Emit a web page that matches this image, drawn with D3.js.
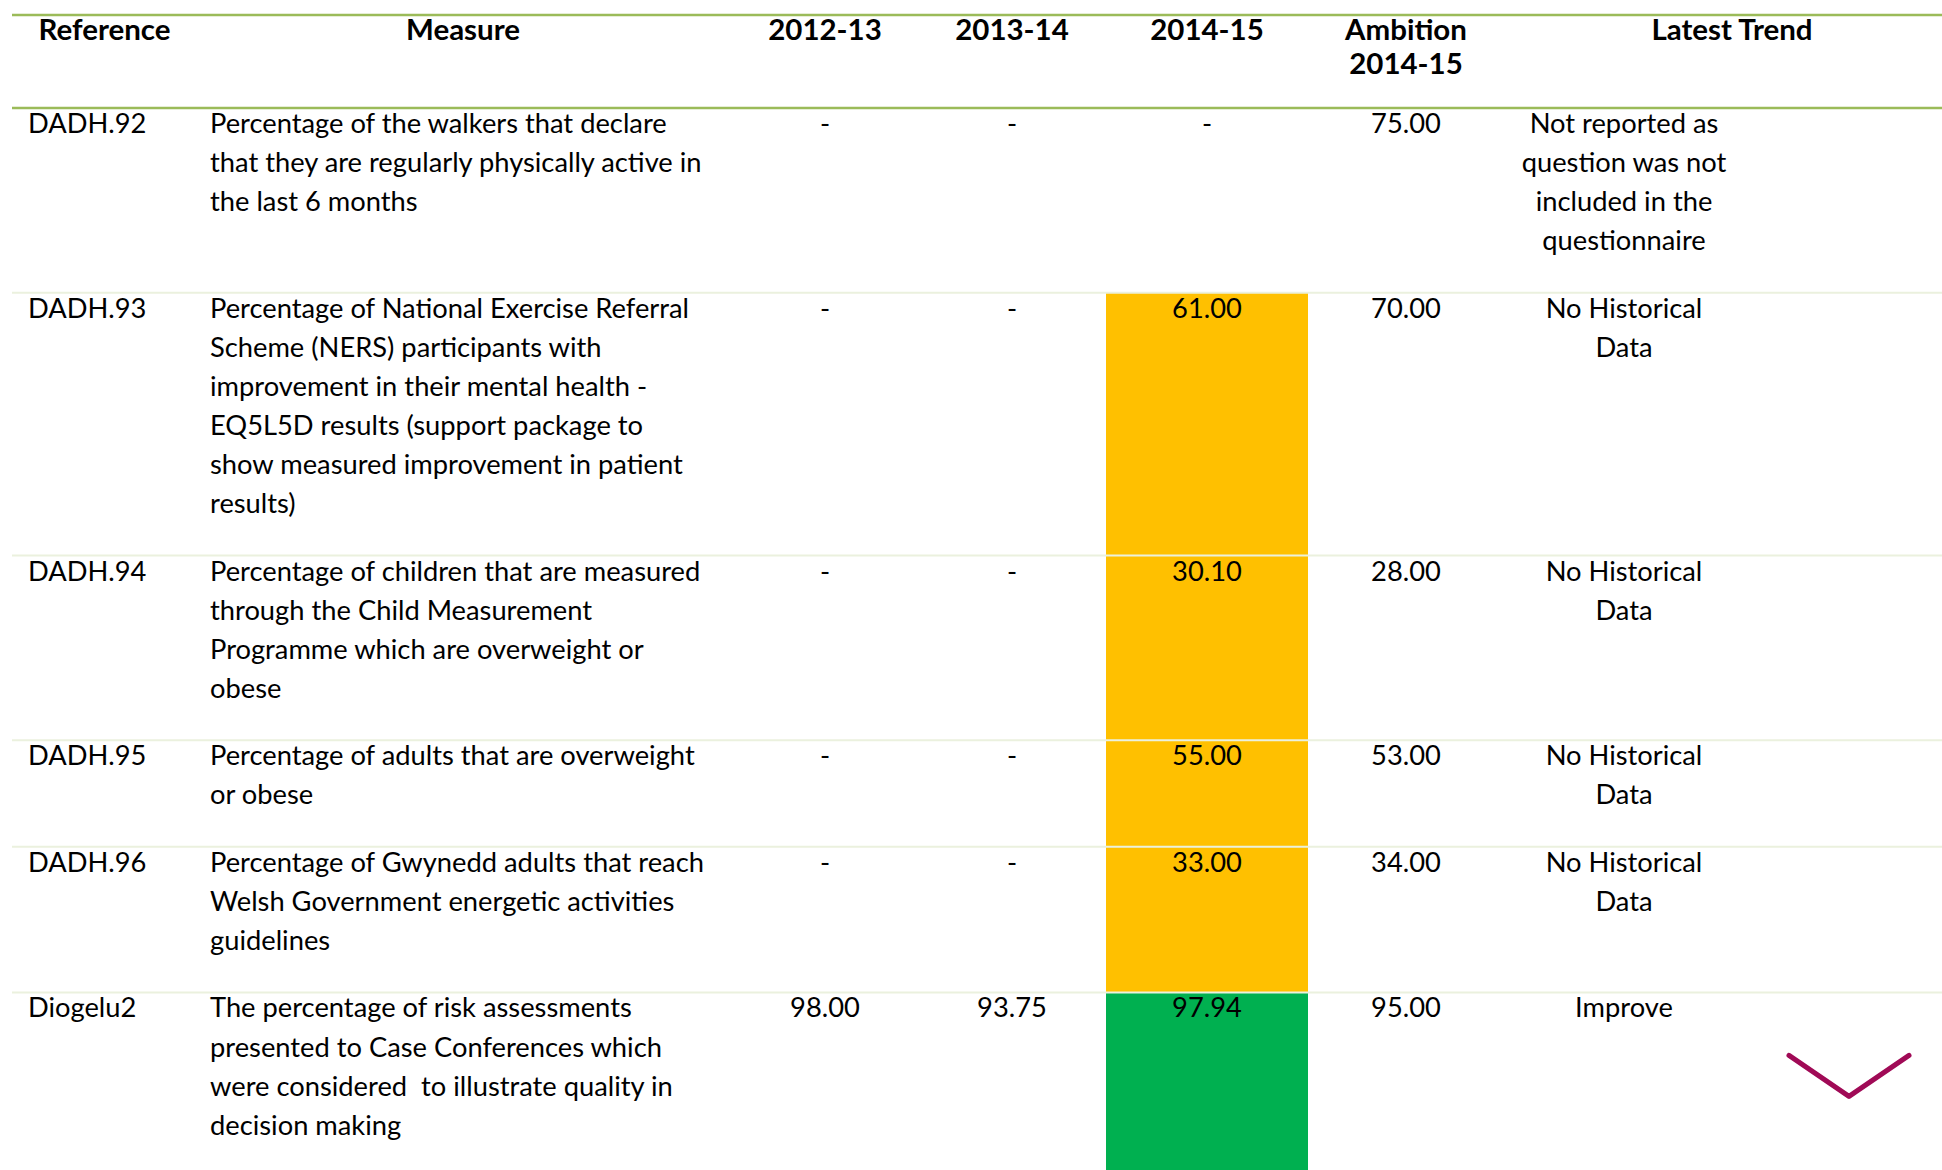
<!DOCTYPE html>
<html>
<head>
<meta charset="utf-8">
<script src="https://cdn.jsdelivr.net/npm/d3@7"></script>
<style>
  html, body { margin: 0; padding: 0; background: #ffffff; }
  svg { display: block; }
  text { font-family: Lato, "Open Sans", sans-serif; fill: #000; }
</style>
</head>
<body>
<svg id="chart" width="1942" height="1170"></svg>
<script>
// ---------------- DATA ----------------
const headers = ["Reference", "Measure", "2012-13", "2013-14", "2014-15", ["Ambition", "2014-15"], "Latest Trend"];
const references = ["DADH.92", "DADH.93", "DADH.94", "DADH.95", "DADH.96", "Diogelu2"];
const measures = [
  ["Percentage of the walkers that declare", "that they are regularly physically active in", "the last 6 months"],
  ["Percentage of National Exercise Referral", "Scheme (NERS) participants with", "improvement in their mental health -", "EQ5L5D results (support package to", "show measured improvement in patient", "results)"],
  ["Percentage of children that are measured", "through the Child Measurement", "Programme which are overweight or", "obese"],
  ["Percentage of adults that are overweight", "or obese"],
  ["Percentage of Gwynedd adults that reach", "Welsh Government energetic activities", "guidelines"],
  ["The percentage of risk assessments", "presented to Case Conferences which", "were considered  to illustrate quality in", "decision making"]
];
const values2012 = ["-", "-", "-", "-", "-", "98.00"];
const values2013 = ["-", "-", "-", "-", "-", "93.75"];
const values2014 = ["-", "61.00", "30.10", "55.00", "33.00", "97.94"];
const ambition2014 = ["75.00", "70.00", "28.00", "53.00", "34.00", "95.00"];
const status2014 = ["none", "amber", "amber", "amber", "amber", "green"];
const trends = [
  ["Not reported as", "question was not", "included in the", "questionnaire"],
  ["No Historical", "Data"],
  ["No Historical", "Data"],
  ["No Historical", "Data"],
  ["No Historical", "Data"],
  ["Improve"]
];
const trendIcons = ["", "", "", "", "", "down"];

// ---------------- LAYOUT ----------------
const W = 1942, H = 1170;
const svg = d3.select("#chart");
svg.append("rect").attr("width", W).attr("height", H).attr("fill", "#fff");

const lineLeft = 12;
const topLineY = 15, headerBottomY = 108;
const lineH = 39.1, rowPad = 28.3, headLineH = 33.5;
const baseOff = 25;

const statusColor = d3.scaleOrdinal()
  .domain(["none", "amber", "green"])
  .range(["none", "#FFC000", "#00B050"]);

// column anchors
const colX = d3.scaleOrdinal()
  .domain(["ref", "measure", "y2012", "y2013", "y2014", "amb", "trend", "trendHead", "refHead", "measureHead"])
  .range([28, 210, 825, 1012, 1207, 1406, 1624, 1732, 104.5, 463]);
const cell2014 = { x0: 1106, x1: 1308 };

// font fitting
function measureText(str, size, weight) {
  const t = svg.append("text").attr("font-size", size).attr("font-weight", weight).text(str);
  const w = t.node().getComputedTextLength();
  t.remove();
  return w;
}
const bodySize = 25 * 457 / measureText("Percentage of the walkers that declare", 25, 400);
const headSize = 27 * 132 / measureText("Reference", 27, 700);

// row geometry
const rowLines = references.map((_, i) => Math.max(measures[i].length, trends[i].length));
const rowTops = [];
let acc = headerBottomY;
rowLines.forEach(n => { rowTops.push(acc); acc += n * lineH + rowPad; });
const rowBottoms = rowTops.map((t, i) => t + rowLines[i] * lineH + rowPad);

const rows = references.map((r, i) => ({
  i, ref: r, measure: measures[i], v12: values2012[i], v13: values2013[i], v14: values2014[i],
  amb: ambition2014[i], status: status2014[i], trend: trends[i], icon: trendIcons[i],
  top: rowTops[i], bottom: Math.min(rowBottoms[i], H)
}));

// status fills
svg.append("g").selectAll("rect")
  .data(rows.filter(d => d.status !== "none"))
  .join("rect")
  .attr("x", cell2014.x0)
  .attr("y", d => d.top)
  .attr("width", cell2014.x1 - cell2014.x0)
  .attr("height", d => d.bottom - d.top)
  .attr("fill", d => statusColor(d.status));

// row separators
svg.append("g").selectAll("line")
  .data(rows.slice(1))
  .join("line")
  .attr("x1", lineLeft).attr("x2", W)
  .attr("y1", d => d.top).attr("y2", d => d.top)
  .attr("stroke", "#EBF1DE").attr("stroke-width", 2);

// header lines
[topLineY, headerBottomY].forEach(y => {
  svg.append("line").attr("x1", lineLeft).attr("x2", W).attr("y1", y).attr("y2", y)
    .attr("stroke", "#9BBB59").attr("stroke-width", 2.5);
});

// header text
const headAnchors = ["refHead", "measureHead", "y2012", "y2013", "y2014", "amb", "trendHead"];
const hg = svg.append("g");
headers.forEach((h, k) => {
  const lines = Array.isArray(h) ? h : [h];
  const t = hg.append("text")
    .attr("x", colX(headAnchors[k]))
    .attr("y", topLineY + 25)
    .attr("text-anchor", "middle")
    .attr("font-weight", 700)
    .attr("font-size", headSize);
  lines.forEach((ln, j) => {
    t.append("tspan").attr("x", colX(headAnchors[k])).attr("dy", j === 0 ? 0 : headLineH).text(ln);
  });
});

// body text
function multiline(g, x, y, lines, anchor) {
  const t = g.append("text").attr("x", x).attr("y", y)
    .attr("text-anchor", anchor).attr("font-size", bodySize);
  lines.forEach((ln, j) => {
    t.append("tspan").attr("x", x).attr("dy", j === 0 ? 0 : lineH)
      .attr("xml:space", "preserve").style("white-space", "pre").text(ln);
  });
}
const bg = svg.append("g");
rows.forEach(d => {
  const y = d.top + baseOff;
  multiline(bg, colX("ref"), y, [d.ref], "start");
  multiline(bg, colX("measure"), y, d.measure, "start");
  multiline(bg, colX("y2012"), y, [d.v12], "middle");
  multiline(bg, colX("y2013"), y, [d.v13], "middle");
  multiline(bg, colX("y2014"), y, [d.v14], "middle");
  multiline(bg, colX("amb"), y, [d.amb], "middle");
  multiline(bg, colX("trend"), y, d.trend, "middle");
});

// trend icons (chevron down)
const chevron = d3.line();
svg.append("g").selectAll("path")
  .data(rows.filter(d => d.icon === "down"))
  .join("path")
  .attr("d", d => {
    const cx = 1849, top = d.top + 63, depth = 41, half = 60;
    return chevron([[cx - half, top], [cx, top + depth], [cx + half, top]]);
  })
  .attr("fill", "none")
  .attr("stroke", "#A00A56")
  .attr("stroke-width", 5)
  .attr("stroke-linecap", "round")
  .attr("stroke-linejoin", "round");
</script>
</body>
</html>
